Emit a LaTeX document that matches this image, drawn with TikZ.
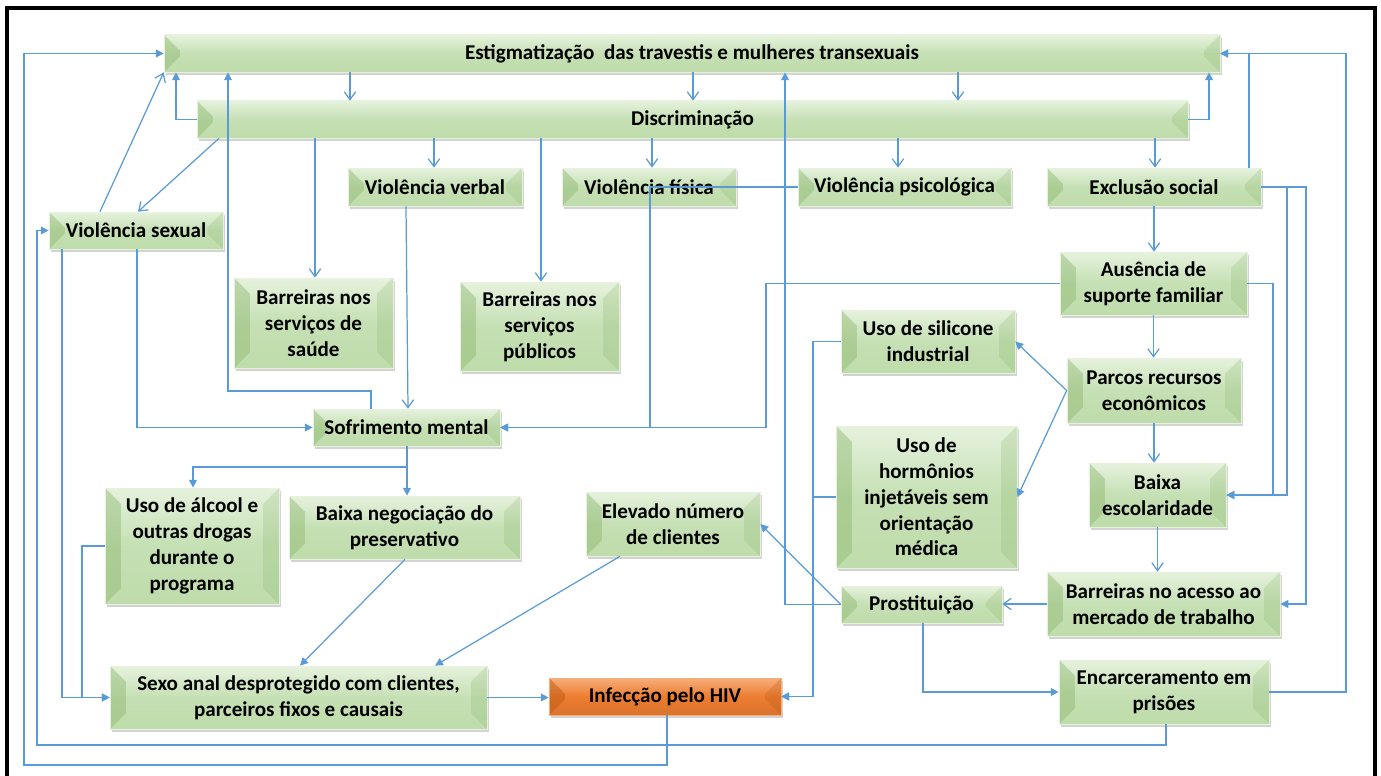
\documentclass[tikz,border=0pt]{standalone}
\usepackage{fontspec}
\setmainfont{Carlito}
\usepackage{tikz}
\usetikzlibrary{arrows.meta, shadows}
\definecolor{grnlt}{HTML}{E6F2DD}
\definecolor{grnmd}{HTML}{C5E0B4}
\definecolor{grnbt}{HTML}{BFDCAB}
\definecolor{grndk}{HTML}{8DB870}
\definecolor{orglt}{HTML}{F6AE7B}
\definecolor{orgmd}{HTML}{ED7D31}
\definecolor{orgdk}{HTML}{B8560F}
\definecolor{lnc}{HTML}{5B9BD5}

\begin{document}
\begin{tikzpicture}[
    x=0.02cm, y=-0.02cm,
    bevel/.style={path picture={
        \fill[#1, opacity=.45] (path picture bounding box.north west) -- ([xshift=9pt,yshift=-9pt]path picture bounding box.north west)
            -- ([xshift=9pt,yshift=9pt]path picture bounding box.south west) -- (path picture bounding box.south west) -- cycle;
        \fill[#1, opacity=.25] (path picture bounding box.north east) -- ([xshift=-9pt,yshift=-9pt]path picture bounding box.north east)
            -- ([xshift=-9pt,yshift=9pt]path picture bounding box.south east) -- (path picture bounding box.south east) -- cycle;
    }},
    box/.style={bevel=grndk, top color=grnlt, bottom color=grnbt, middle color=grnmd,
        draw=grnlt, line width=0.4pt, inner sep=0pt, align=center,
        font=\bfseries\fontsize{12}{14.7}\selectfont,
        drop shadow={shadow xshift=1.2pt, shadow yshift=-1.5pt, opacity=.35}},
    hivbox/.style={box, bevel=orgdk, top color=orglt, bottom color=orgmd!92!black, middle color=orgmd, draw=orglt},
    lnk/.style={draw=lnc, line width=0.7pt, -{Straight Barb[length=4.5pt,width=6.5pt]}},
    flnk/.style={draw=lnc, line width=0.7pt, -{Triangle[length=4.5pt,width=4.5pt]}}
]
    \useasboundingbox (0,0) rectangle (1381,776);
    \draw[line width=1.8pt] (7,776) -- (7,8) -- (1375,8) -- (1375,776);

    % top bars and first row
    \node[box, minimum width=21.12cm, minimum height=0.74cm] (stig) at (692,53.5) {Estigmatização\ \ das travestis e mulheres transexuais};
    \node[box, minimum width=19.82cm, minimum height=0.74cm] (disc) at (692.5,119.5) {Discriminação};
    \node[box, minimum width=3.48cm, minimum height=0.76cm] (vverb) at (435,187) {Violência verbal};
    \node[box, minimum width=3.48cm, minimum height=0.76cm] (vfis) at (649,187) {Violência física};
    \node[box, minimum width=4.26cm, minimum height=0.76cm] (vpsi) at (904.5,187) {Violência psicológica};
    \node[box, minimum width=4.28cm, minimum height=0.76cm] (exclu) at (1154,187) {Exclusão social};
    \node[box, minimum width=3.48cm, minimum height=0.74cm] (vsex) at (136,230.5) {Violência sexual};

    % left part
    \node[box, minimum width=3.18cm, minimum height=1.8cm] (bsaude) at (313.5,323) {Barreiras nos\\serviços de\\saúde};
    \node[box, minimum width=3.18cm, minimum height=1.78cm] (bpub) at (539.5,326.5) {Barreiras nos\\serviços\\públicos};
    \node[box, minimum width=3.74cm, minimum height=0.74cm] (sofr) at (406.5,427.5) {Sofrimento mental};
    \node[box, minimum width=3.48cm, minimum height=2.32cm] (alcool) at (192,546) {Uso de álcool e\\outras drogas\\durante o\\programa};
    \node[box, minimum width=4.62cm, minimum height=1.26cm] (bneg) at (404.5,527.5) {Baixa negociação do\\preservativo};
    \node[box, minimum width=3.48cm, minimum height=1.28cm] (elev) at (673,524) {Elevado número\\de clientes};
    \node[box, minimum width=7.54cm, minimum height=1.26cm] (sexo) at (298.5,697.5) {Sexo anal desprotegido com clientes,\\parceiros fixos e causais};
    \node[hivbox, minimum width=4.64cm, minimum height=0.74cm] (hiv) at (665,696.5) {Infecção pelo HIV};

    % right part
    \node[box, minimum width=3.48cm, minimum height=1.26cm] (silic) at (928,341.5) {Uso de silicone\\industrial};
    \node[box, minimum width=3.62cm, minimum height=2.84cm] (horm) at (926.5,497) {Uso de\\hormônios\\injetáveis sem\\orientação\\médica};
    \node[box, minimum width=3.74cm, minimum height=1.26cm] (ausen) at (1153.5,283.5) {Ausência de\\suporte familiar};
    \node[box, minimum width=3.48cm, minimum height=1.3cm] (parcos) at (1154,390.5) {Parcos recursos\\econômicos};
    \node[box, minimum width=2.74cm, minimum height=1.28cm] (baixaesc) at (1157.5,495) {Baixa\\escolaridade};
    \node[box, minimum width=4.66cm, minimum height=1.28cm] (bmerc) at (1163.5,604) {Barreiras no acesso ao\\mercado de trabalho};
    \node[box, minimum width=3.22cm, minimum height=0.74cm] (prost) at (921.5,604.5) {Prostituição};
    \node[box, minimum width=4.2cm, minimum height=1.28cm] (encar) at (1164,692) {Encarceramento em\\prisões};

    % open arrows
    \foreach \x in {350,693,958}
        \draw[lnk] (\x,0 |- stig.south) -- (\x,0 |- disc.north);
    \foreach \x/\n in {434/vverb,652/vfis,898/vpsi,1155/exclu}
        \draw[lnk] (\x,0 |- disc.south) -- (\x,0 |- \n.north);
    \draw[lnk] (315,0 |- disc.south) -- (315,0 |- bsaude.north);
    \draw[lnk] (541,0 |- disc.south) -- (541,0 |- bpub.north);
    \draw[lnk] (219,0 |- disc.south) -- (138,0 |- vsex.north);
    \draw[lnk] (100,0 |- vsex.north) -- (stig.south west);
    \draw[lnk] (406,0 |- vverb.south) -- (408,0 |- sofr.north);
    \draw[lnk] (exclu.south) -- (exclu.south |- ausen.north);
    \draw[lnk] (ausen.south) -- (ausen.south |- parcos.north);
    \draw[lnk] (parcos.south) -- (parcos.south |- baixaesc.north);
    \draw[lnk] (baixaesc.south) -- (baixaesc.south |- bmerc.north);
    \draw[lnk] (bmerc.west) -- (bmerc.west -| prost.east);

    % filled arrows
    \draw[flnk] (disc.west) -| (176,0 |- stig.south);
    \draw[flnk] (disc.east) -| (1209,0 |- stig.south);
    \draw[flnk] (vpsi.west) -| (650,0 |- sofr.east) -- (sofr.east);
    \draw[flnk] (ausen.west) -| (766,0 |- sofr.east) -- (sofr.east);
    \draw[flnk] (371,0 |- sofr.north) |- (228,391) -- (228,0 |- stig.south);
    \draw[flnk] (prost.west) -| (785,0 |- stig.south);
    \draw[flnk] (1249,0 |- exclu.north) |- (stig.east);
    \draw[flnk] (encar.east) -| (1346,0 |- stig.east) -- (stig.east);
    \draw[flnk] (exclu.east) -| (1287,0 |- baixaesc.east) -- (baixaesc.east);
    \draw[flnk] (ausen.east) -| (1273,0 |- baixaesc.east) -- (baixaesc.east);
    \draw[flnk] (exclu.east) -| (1306,0 |- bmerc.east) -- (bmerc.east);
    \draw[flnk] (parcos.west) -- (silic.east);
    \draw[flnk] (parcos.west) -- (horm.east);
    \draw[flnk] (silic.west) -| (813,0 |- hiv.east) -- (hiv.east);
    \draw[flnk] (horm.west) -| (813,0 |- hiv.east) -- (hiv.east);
    \draw[flnk] (prost.west) -- (elev.east);
    \draw[flnk] (620,0 |- elev.south) -- (435,0 |- sexo.north);
    \draw[flnk] (405,0 |- bneg.south) -- (300,0 |- sexo.north);
    \draw[flnk] (sexo.east) -- (sexo.east -| hiv.west);
    \draw[flnk] (407,0 |- sofr.south) |- (193,467) -- (193,0 |- alcool.north);
    \draw[flnk] (407,0 |- sofr.south) -- (407,0 |- bneg.north);
    \draw[flnk] (137,0 |- vsex.south) |- (sofr.west);
    \draw[flnk] (62,0 |- vsex.south) |- (sexo.west);
    \draw[flnk] (alcool.west) -| (82,0 |- sexo.west) -- (sexo.west);
    \draw[flnk] (1166,0 |- encar.south) |- (37,745) |- (vsex.west);
    \draw[flnk] (667,0 |- hiv.south) |- (24,765) |- (stig.west);
    \draw[flnk] (923,0 |- prost.south) |- (encar.west);
\end{tikzpicture}
\end{document}
